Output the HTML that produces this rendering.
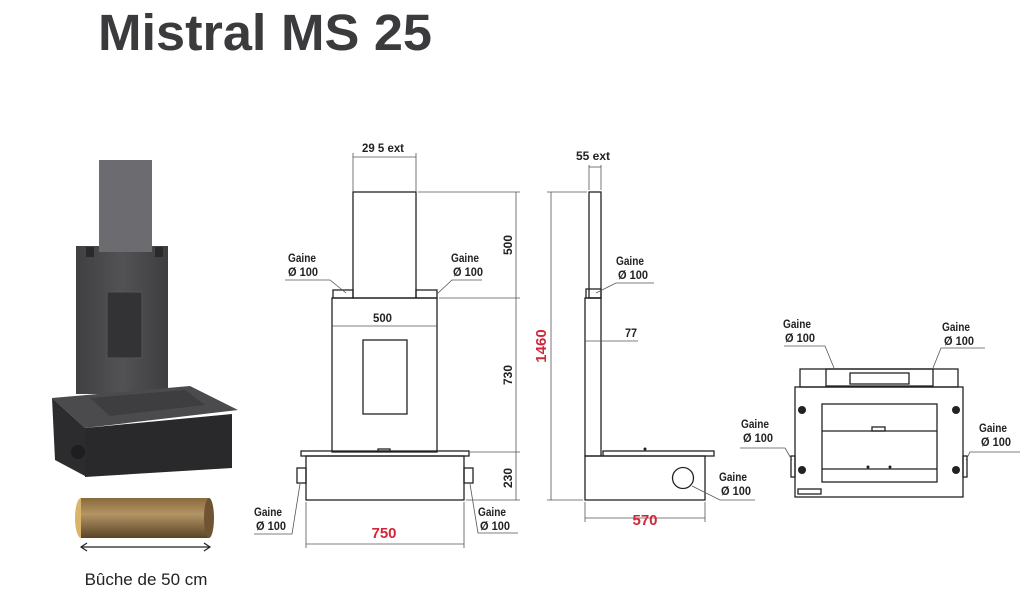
<!DOCTYPE html>
<html><head><meta charset="utf-8"><style>
html,body{margin:0;padding:0;background:#fff;}
svg{display:block;}
.t{font-family:"Liberation Sans",sans-serif;font-weight:bold;font-size:12px;fill:#222;}
.r{font-family:"Liberation Sans",sans-serif;font-weight:bold;font-size:15px;fill:#d0283a;}
</style></head><body>
<svg width="1024" height="615" viewBox="0 0 1024 615" xmlns="http://www.w3.org/2000/svg">
<defs>
<linearGradient id="g1" x1="0" x2="1"><stop offset="0" stop-color="#404042"/><stop offset="0.5" stop-color="#525254"/><stop offset="1" stop-color="#3e3e40"/></linearGradient>
<linearGradient id="log" x1="0" y1="0" x2="0" y2="1"><stop offset="0" stop-color="#8a6a3c"/><stop offset="0.4" stop-color="#b39565"/><stop offset="1" stop-color="#5a4326"/></linearGradient>
</defs>
<text x="98" y="50" font-family="Liberation Sans,sans-serif" font-weight="bold" font-size="51" fill="#3b3b3d" textLength="334" lengthAdjust="spacingAndGlyphs">Mistral MS 25</text>

<!-- photo -->
<rect x="76" y="246" width="92" height="148" fill="url(#g1)"/>
<rect x="99" y="160" width="53" height="92" fill="#6c6c70"/>
<rect x="86" y="247" width="8" height="10" fill="#2a2a2c"/>
<rect x="155" y="247" width="8" height="10" fill="#2a2a2c"/>
<rect x="107" y="292" width="35" height="66" fill="#333335" stroke="#555" stroke-width="1"/>
<polygon points="52,398 190,386 238,410 85,428" fill="#4b4b4d"/>
<polygon points="90,398 185,390 205,405 110,416" fill="#3e3e40"/>
<polygon points="52,398 85,428 85,476 55,460" fill="#2c2c2e"/>
<polygon points="85,428 232,414 232,468 85,477" fill="#29292b"/>
<circle cx="78" cy="452" r="7" fill="#1e1e20"/>
<ellipse cx="81" cy="518" rx="6" ry="20" fill="#d9b46a"/>
<rect x="81" y="498" width="128" height="40" fill="url(#log)"/>
<ellipse cx="209" cy="518" rx="5" ry="20" fill="#6e5432"/>
<line x1="82" y1="547" x2="210" y2="547" stroke="#222" stroke-width="1.2"/>
<polyline points="87,543 81,547 87,551" fill="none" stroke="#222" stroke-width="1.2"/>
<polyline points="204,543 210,547 204,551" fill="none" stroke="#222" stroke-width="1.2"/>
<text x="146" y="585" text-anchor="middle" font-family="Liberation Sans,sans-serif" font-size="17" fill="#222">Bûche de 50 cm</text>

<g fill="none" stroke="#222" stroke-width="1.3">
<rect x="353" y="192" width="63" height="106"/>
<rect x="333" y="290" width="20" height="8"/>
<rect x="416" y="290" width="21" height="8"/>
<rect x="332" y="298" width="105" height="154"/>
<rect x="363" y="340" width="44" height="74"/>
<rect x="301" y="451" width="168" height="5"/>
<rect x="306" y="456" width="158" height="44"/>
<rect x="297" y="468" width="9" height="15"/>
<rect x="464" y="468" width="9" height="15"/>
<rect x="378" y="449" width="12" height="2"/>
<rect x="589" y="192" width="12" height="106"/>
<rect x="586" y="289" width="15" height="9"/>
<rect x="585" y="298" width="16" height="158"/>
<rect x="603" y="451" width="111" height="5"/>
<rect x="585" y="456" width="120" height="44"/>
<circle cx="683" cy="478" r="10.5"/>
<rect x="795" y="387" width="168" height="110"/>
<rect x="800" y="369" width="158" height="18"/>
<rect x="826" y="369" width="107" height="17"/>
<rect x="850" y="373" width="59" height="11"/>
<rect x="822" y="404" width="115" height="78"/>
<line x1="822" y1="431" x2="937" y2="431"/>
<line x1="822" y1="469" x2="937" y2="469"/>
<rect x="872" y="427" width="13" height="4"/>
<rect x="798" y="489" width="23" height="5"/>
<rect x="791" y="456" width="4" height="21"/>
<rect x="963" y="456" width="4" height="21"/>
</g>
<g fill="#222">
<circle cx="802" cy="410" r="4"/><circle cx="956" cy="410" r="4"/>
<circle cx="802" cy="470" r="4"/><circle cx="956" cy="470" r="4"/>
<circle cx="868" cy="467" r="1.5"/><circle cx="890" cy="467" r="1.5"/>
<circle cx="645" cy="449" r="1.5"/>
</g>

<g fill="none" stroke="#555" stroke-width="0.8">
<line x1="353" y1="192" x2="353" y2="153"/><line x1="416" y1="192" x2="416" y2="153"/>
<line x1="353" y1="157" x2="416" y2="157"/>
<line x1="418" y1="192" x2="520" y2="192"/>
<line x1="439" y1="298" x2="520" y2="298"/>
<line x1="470" y1="452" x2="520" y2="452"/>
<line x1="466" y1="500" x2="520" y2="500"/>
<line x1="516" y1="192" x2="516" y2="500"/>
<line x1="332" y1="326" x2="437" y2="326"/>
<line x1="306" y1="502" x2="306" y2="548"/><line x1="464" y1="502" x2="464" y2="548"/>
<line x1="306" y1="544" x2="464" y2="544"/>
<line x1="551" y1="192" x2="551" y2="500"/>
<line x1="547" y1="192" x2="587" y2="192"/><line x1="547" y1="500" x2="583" y2="500"/>
<line x1="589" y1="165" x2="589" y2="190"/><line x1="601" y1="165" x2="601" y2="190"/>
<line x1="589" y1="167" x2="601" y2="167"/>
<line x1="585" y1="341" x2="638" y2="341"/>
<line x1="585" y1="502" x2="585" y2="522"/><line x1="705" y1="502" x2="705" y2="522"/>
<line x1="585" y1="518" x2="705" y2="518"/>
<polyline points="285,280 330,280 346,293"/>
<polyline points="482,280 452,280 437,294"/>
<polyline points="300,484 292,534 254,534"/>
<polyline points="470,484 478,533 518,533"/>
<polyline points="596,293 616,283 654,283"/>
<polyline points="692,486 720,500 755,500"/>
<polyline points="784,346 825,346 834,368"/>
<polyline points="985,348 941,348 933,368"/>
<polyline points="740,448 785,448 792,460"/>
<polyline points="1020,452 970,452 966,460"/>
</g>

<text class="t" x="362" y="152" textLength="42" lengthAdjust="spacingAndGlyphs">29 5  ext</text>
<text class="t" x="576" y="160" textLength="34" lengthAdjust="spacingAndGlyphs">55  ext</text>
<text class="t" x="373" y="322" textLength="19" lengthAdjust="spacingAndGlyphs">500</text>
<text class="t" x="625" y="337" textLength="12" lengthAdjust="spacingAndGlyphs">77</text>
<text class="t" transform="translate(512,245) rotate(-90)" text-anchor="middle">500</text>
<text class="t" transform="translate(512,375) rotate(-90)" text-anchor="middle">730</text>
<text class="t" transform="translate(512,478) rotate(-90)" text-anchor="middle">230</text>
<text class="r" transform="translate(546,346) rotate(-90)" text-anchor="middle">1460</text>
<text class="r" x="384" y="538" text-anchor="middle">750</text>
<text class="r" x="645" y="525" text-anchor="middle">570</text>

<g class="t" lengthAdjust="spacingAndGlyphs">
<text x="288" y="262" textLength="28" lengthAdjust="spacingAndGlyphs">Gaine</text><text x="288" y="276" textLength="30" lengthAdjust="spacingAndGlyphs">Ø 100</text>
<text x="451" y="262" textLength="28" lengthAdjust="spacingAndGlyphs">Gaine</text><text x="453" y="276" textLength="30" lengthAdjust="spacingAndGlyphs">Ø 100</text>
<text x="254" y="516" textLength="28" lengthAdjust="spacingAndGlyphs">Gaine</text><text x="256" y="530" textLength="30" lengthAdjust="spacingAndGlyphs">Ø 100</text>
<text x="478" y="516" textLength="28" lengthAdjust="spacingAndGlyphs">Gaine</text><text x="480" y="530" textLength="30" lengthAdjust="spacingAndGlyphs">Ø 100</text>
<text x="616" y="265" textLength="28" lengthAdjust="spacingAndGlyphs">Gaine</text><text x="618" y="279" textLength="30" lengthAdjust="spacingAndGlyphs">Ø 100</text>
<text x="719" y="481" textLength="28" lengthAdjust="spacingAndGlyphs">Gaine</text><text x="721" y="495" textLength="30" lengthAdjust="spacingAndGlyphs">Ø 100</text>
<text x="783" y="328" textLength="28" lengthAdjust="spacingAndGlyphs">Gaine</text><text x="785" y="342" textLength="30" lengthAdjust="spacingAndGlyphs">Ø 100</text>
<text x="942" y="331" textLength="28" lengthAdjust="spacingAndGlyphs">Gaine</text><text x="944" y="345" textLength="30" lengthAdjust="spacingAndGlyphs">Ø 100</text>
<text x="741" y="428" textLength="28" lengthAdjust="spacingAndGlyphs">Gaine</text><text x="743" y="442" textLength="30" lengthAdjust="spacingAndGlyphs">Ø 100</text>
<text x="979" y="432" textLength="28" lengthAdjust="spacingAndGlyphs">Gaine</text><text x="981" y="446" textLength="30" lengthAdjust="spacingAndGlyphs">Ø 100</text>
</g>
</svg>
</body></html>
